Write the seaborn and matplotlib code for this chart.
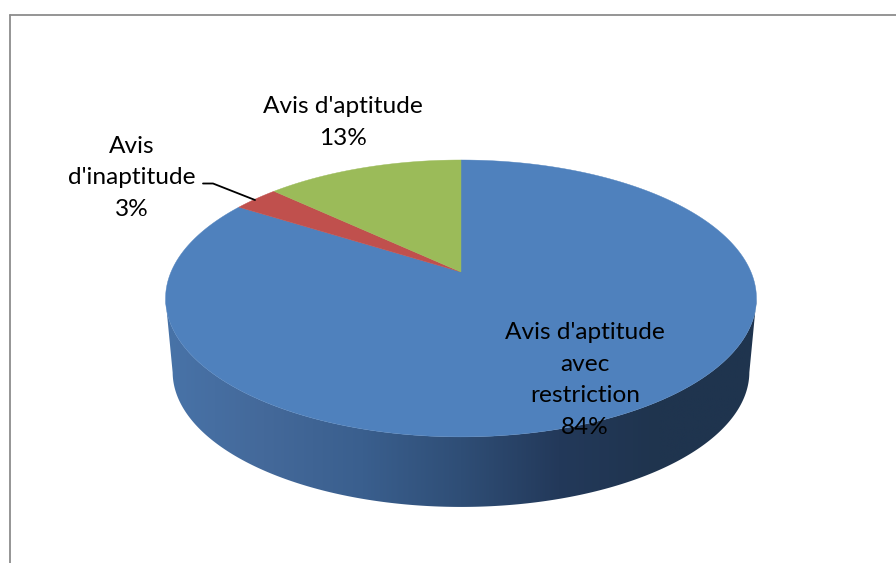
import numpy as np
import matplotlib
matplotlib.use('Agg')
import matplotlib.pyplot as plt
from matplotlib.colors import LinearSegmentedColormap
from matplotlib.patches import Polygon
import seaborn as sns

categories = ["Avis d'aptitude avec restriction", "Avis d'inaptitude", "Avis d'aptitude"]
values = [84, 3, 13]
wrapped_names = ["Avis d'aptitude\navec\nrestriction", "Avis\nd'inaptitude", "Avis d'aptitude"]
colors = ['#4F81BD', '#C0504D', '#9BBB59']
side_colors = ['#4873A8', '#44699A', '#3A5F8E', '#2F4E76', '#23395A', '#1F344E', '#1F344E']

sns.set_theme(style='white')
plt.rcParams['font.family'] = ['Lato', 'DejaVu Sans']

# pie seen in perspective: circle goes through a projective map, so the apex sits above the ellipse centre
apex_x, apex_y = 461, 272
persp = 0.191
scale_x, scale_y = 290, 133.4


def project(theta):
    x, y = np.cos(theta), np.sin(theta)
    d = 1 + persp * y
    return apex_x + scale_x * x / d, apex_y - scale_y * y / d


def wedge_points(w):
    t = np.radians(np.linspace(w.theta1, w.theta2, 300))
    px, py = project(t)
    return np.column_stack([np.r_[apex_x, px], np.r_[apex_y, py]])


fig = plt.figure(figsize=(8.96, 5.63), dpi=100)
ax = fig.add_axes([0, 0, 1, 1])

wedges, _ = ax.pie(values, colors=sns.color_palette(colors), startangle=90, counterclock=False)

# side wall, between the widest points of the top ellipse and of a slightly smaller one below it
t = np.radians(np.linspace(140, 400, 600))
top_x, top_y = project(t)
i0, i1 = np.argmin(top_x), np.argmax(top_x)
top_x, top_y = top_x[i0:i1 + 1], top_y[i0:i1 + 1]
low_x = apex_x + (top_x - apex_x) * 0.976
low_y = 372 + (top_y - 298.5) * 0.975
side = np.column_stack([np.r_[top_x, low_x[::-1]], np.r_[top_y, low_y[::-1]]])
side_patch = Polygon(side, closed=True, fc='none', ec='none', transform=ax.transData)
ax.add_patch(side_patch)
cmap = LinearSegmentedColormap.from_list('side', side_colors)
img = ax.imshow(np.linspace(0, 1, 256).reshape(1, -1), cmap=cmap, aspect='auto',
                extent=(165, 757, 510, 290), zorder=1)
img.set_clip_path(side_patch)

for w, c in zip(wedges, colors):
    w.set_visible(False)
    ax.add_patch(Polygon(wedge_points(w), closed=True, fc=c, ec=c, lw=0.3, zorder=2))

# chart frame, only top and left are in the crop
ax.plot([9.5, 896], [14.5, 14.5], color='#8C8C8C', lw=1.3, zorder=3)
ax.plot([9.5, 9.5], [14.5, 563], color='#8C8C8C', lw=1.3, zorder=3)

# leader line for the small slice
ax.plot([203, 213, 255], [183.5, 183.5, 200], color='black', lw=1.3, zorder=3)

fs = 17.6
ls = 1.61
ax.text(585, 380, f"{wrapped_names[0]}\n{values[0]}%", ha='center', va='center', fontsize=fs,
        color='black', linespacing=ls, zorder=4)
ax.text(132, 178, f"{wrapped_names[1]}\n{values[1]}%", ha='center', va='center', fontsize=fs,
        color='black', linespacing=ls, zorder=4)
ax.text(343, 122.5, f"{wrapped_names[2]}\n{values[2]}%", ha='center', va='center', fontsize=fs,
        color='black', linespacing=ls, zorder=4)

ax.set_xlim(0, 896)
ax.set_ylim(563, 0)
ax.set_aspect('auto')
ax.axis('off')

plt.savefig('out.png', dpi=100)
plt.close('all')
